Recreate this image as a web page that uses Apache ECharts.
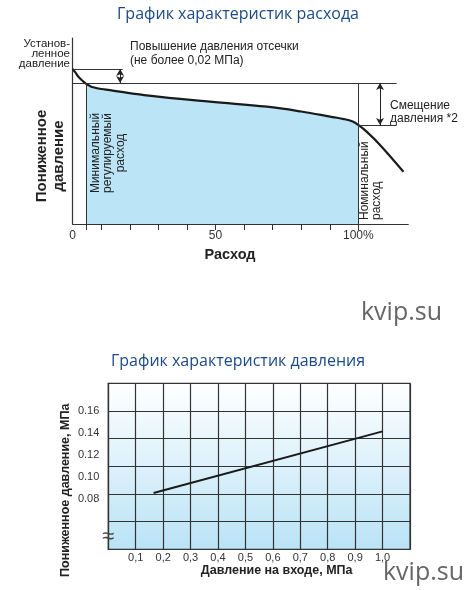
<!DOCTYPE html>
<html><head><meta charset="utf-8">
<script src="https://cdn.jsdelivr.net/npm/echarts@6/dist/echarts.min.js"></script>
<style>html,body{margin:0;padding:0;background:#fff}#c{width:476px;height:590px}</style>
</head><body><div id="c"></div>
<script>
// ---------- Chart 1: flow characteristics (relative units) ----------
const flowX = [0, 1, 2, 3.5, 4.7, 6, 7.2, 10, 13, 25, 48, 68, 80, 91, 95, 98, 100, 103, 107.6, 115.8];
const flowY = [100, 97.6, 95, 92.3, 90.4, 89.1, 88.2, 87.1, 86.4, 83.2, 78.9, 75.7, 72.6, 69.0, 67.7, 66.1, 63.9, 59.4, 51, 33.7];
const flowTickValues = [4.7, 10, 20, 30, 40, 50, 60, 70, 80, 90, 100];
const flowLabelValues = [0, 50, 100];
const flowLabelTexts = ['0', '50', '100%'];
const minFlow = 4.7, nominalFlow = 100;
const setPressure = 100, cutoffPressure = 91, nominalPressure = 63.9;
const cutoffArrowX = 16.6, setLineEnd = 17.5, shiftArrowX = 107.6, rightLineEnd = 113.4;

// ---------- Chart 2: pressure characteristics ----------
const inletPressure = [0.165, 1.0];
const outletPressure = [0.085, 0.141];
const inletLabelValues = [0.1, 0.2, 0.3, 0.4, 0.5, 0.6, 0.7, 0.8, 0.9, 1.0];
const outletLabelValues = [0.08, 0.10, 0.12, 0.14, 0.16];

const SANS = '"Liberation Sans", Arial, sans-serif';
const TITLE_FONT = '"Open Sans", sans-serif';
const INK = '#1a1a1a';

const curve = flowX.map((x, i) => [x, flowY[i]]);
const fill = curve.filter(p => p[0] >= minFlow && p[0] <= nominalFlow);
const curveAtMin = flowY[flowX.indexOf(minFlow)];
const pressLine = inletPressure.map((x, i) => [x, outletPressure[i]]);

function txt(x, y, text, o) {
  o = o || {};
  return {
    type: 'text', x: x, y: y, rotation: o.rot || 0, z: 10,
    style: {
      text: text, x: 0, y: 0,
      fill: o.color || '#222',
      fontSize: o.size || 12, fontFamily: o.family || SANS, fontWeight: o.weight || 'normal',
      align: o.align || 'left', textAlign: o.align || 'left',
      verticalAlign: 'middle', textVerticalAlign: 'middle',
      lineHeight: o.lh || 14
    }
  };
}

const chart = echarts.init(document.getElementById('c'), null, {renderer: 'canvas'});
chart.setOption({
  animation: false,
  backgroundColor: '#fff',
  title: [
    {text: 'График характеристик расхода', left: 'center', top: 4.5, padding: 0,
     textStyle: {fontFamily: TITLE_FONT, fontSize: 16, fontWeight: 'normal', color: '#1b4a86', lineHeight: 20}},
    {text: 'График характеристик давления', left: 'center', top: 351.5, padding: 0,
     textStyle: {fontFamily: TITLE_FONT, fontSize: 16, fontWeight: 'normal', color: '#1b4a86', lineHeight: 20}}
  ],
  grid: [
    {left: 72.7, top: 38, width: 335.6, height: 186, containLabel: false},
    {left: 108.3, top: 383.3, width: 301.7, height: 166, show: true, borderColor: '#333', borderWidth: 1.2,
     backgroundColor: {type: 'linear', x: 0, y: 0, x2: 0, y2: 1,
       colorStops: [{offset: 0, color: '#ffffff'}, {offset: 1, color: '#b9e3f6'}]}},
    {left: 108.3, top: 410.5, width: 301.7, height: 88}
  ],
  xAxis: [
    {gridIndex: 0, type: 'value', min: 0, max: 117.5,
     axisLine: {show: true, lineStyle: {color: '#333', width: 1.2}},
     axisTick: {show: true, length: 6, lineStyle: {color: '#333', width: 1}, customValues: flowTickValues},
     axisLabel: {show: true, margin: 6, color: '#333', fontSize: 12, fontFamily: SANS,
       customValues: flowLabelValues,
       formatter: v => flowLabelTexts[flowLabelValues.indexOf(Math.round(v))] ?? ''},
     splitLine: {show: false},
     name: 'Расход', nameLocation: 'middle', nameGap: 23,
     nameTextStyle: {fontFamily: SANS, fontWeight: 'bold', fontSize: 14.5, color: '#222', padding: [0, 21, 0, 0]}},
    {gridIndex: 1, type: 'value', min: 0, max: 1.1, interval: 0.1,
     axisLine: {show: true, lineStyle: {color: '#333', width: 1.2}},
     axisTick: {show: false},
     axisLabel: {show: true, margin: 3, color: '#333', fontSize: 11, fontFamily: SANS,
       customValues: inletLabelValues,
       formatter: v => v.toFixed(1).replace('.', ',')},
     splitLine: {show: true, lineStyle: {color: '#333', width: 1.2}},
     name: 'Давление на входе, МПа', nameLocation: 'middle', nameGap: 15,
     nameTextStyle: {fontFamily: SANS, fontWeight: 'bold', fontSize: 12.5, color: '#222', padding: [0, 0, 0, 35]}},
    {gridIndex: 2, type: 'value', min: 0, max: 1.1, show: false}
  ],
  yAxis: [
    {gridIndex: 0, type: 'value', min: 0, max: 120,
     axisLine: {show: true, lineStyle: {color: '#333', width: 1.2}},
     axisTick: {show: false}, axisLabel: {show: false}, splitLine: {show: false},
     name: 'Пониженное\nдавление', nameLocation: 'middle', nameGap: 6,
     nameTextStyle: {fontFamily: SANS, fontWeight: 'bold', fontSize: 15, color: '#222', lineHeight: 16.5, padding: [0, 50, 0, 0]}},
    {gridIndex: 1, type: 'value', min: 0.06, max: 0.18, interval: 0.02,
     axisLine: {show: true, lineStyle: {color: '#333', width: 1.2}},
     axisTick: {show: false}, axisLabel: {show: false},
     splitLine: {show: true, lineStyle: {color: '#333', width: 1.2}},
     name: 'Пониженное давление, МПа', nameLocation: 'middle', nameGap: 36,
     nameTextStyle: {fontFamily: SANS, fontWeight: 'bold', fontSize: 12.5, color: '#222', padding: [0, 48, 0, 0]}},
    {gridIndex: 2, type: 'value', min: 0.08, max: 0.16, interval: 0.02,
     axisLine: {show: false}, axisTick: {show: false}, splitLine: {show: false},
     axisLabel: {show: true, margin: 9, color: '#333', fontSize: 11, fontFamily: SANS,
       formatter: v => v.toFixed(2)}}
  ],
  series: [
    {name: 'fill', type: 'line', xAxisIndex: 0, yAxisIndex: 0, data: fill, smooth: 0.4,
     symbol: 'none', lineStyle: {width: 0}, areaStyle: {color: '#bbe4f7', opacity: 1}, z: 1, silent: true},
    {name: 'guides', type: 'line', xAxisIndex: 0, yAxisIndex: 0, data: [], z: 2,
     markLine: {silent: true, symbol: 'none', label: {show: false},
       lineStyle: {color: '#333', width: 1, type: 'solid'},
       data: [
         [{coord: [0, setPressure]}, {coord: [setLineEnd, setPressure]}],
         [{coord: [0, cutoffPressure]}, {coord: [rightLineEnd, cutoffPressure]}],
         [{coord: [minFlow, 0]}, {coord: [minFlow, curveAtMin]}],
         [{coord: [nominalFlow, 0]}, {coord: [nominalFlow, cutoffPressure]}],
         [{coord: [nominalFlow, nominalPressure]}, {coord: [rightLineEnd, nominalPressure]}]
       ]}},
    {name: 'arrows', type: 'line', xAxisIndex: 0, yAxisIndex: 0, data: [], z: 2,
     markLine: {silent: true, symbol: ['arrow', 'arrow'], symbolSize: [6, 7], label: {show: false},
       lineStyle: {color: '#222', width: 1, type: 'solid'},
       data: [
         [{coord: [cutoffArrowX, setPressure]}, {coord: [cutoffArrowX, cutoffPressure]}],
         [{coord: [shiftArrowX, cutoffPressure]}, {coord: [shiftArrowX, nominalPressure]}]
       ]}},
    {name: 'curve', type: 'line', xAxisIndex: 0, yAxisIndex: 0, data: curve, smooth: 0.4,
     symbol: 'none', lineStyle: {color: INK, width: 2.2}, z: 3},
    {name: 'pressure', type: 'line', xAxisIndex: 2, yAxisIndex: 2, data: pressLine,
     symbol: 'none', lineStyle: {color: INK, width: 2}, z: 3}
  ],
  graphic: [
    txt(70, 53.5, 'Установ-\nленное\nдавление', {align: 'right', size: 11.5, lh: 10}),
    txt(130, 53.8, 'Повышение давления отсечки\n(не более 0,02 МПа)', {size: 12, lh: 14.3}),
    txt(390, 112.5, 'Смещение\nдавления *2', {size: 12, lh: 13}),
    txt(108, 153, 'Минимальный\nрегулируемый\nрасход', {align: 'center', size: 12, lh: 12.5, rot: Math.PI / 2}),
    txt(371, 220, 'Номинальный\nрасход', {align: 'left', size: 12, lh: 12, rot: Math.PI / 2}),
    txt(401.5, 313, 'kvip.su', {align: 'center', size: 25, family: TITLE_FONT, color: '#666', lh: 30}),
    txt(423.5, 573, 'kvip.su', {align: 'center', size: 25, family: TITLE_FONT, color: '#666', lh: 30}),
    txt(108, 536.5, '≈', {align: 'center', size: 22, color: '#444', lh: 22})
  ]
});
</script></body></html>
